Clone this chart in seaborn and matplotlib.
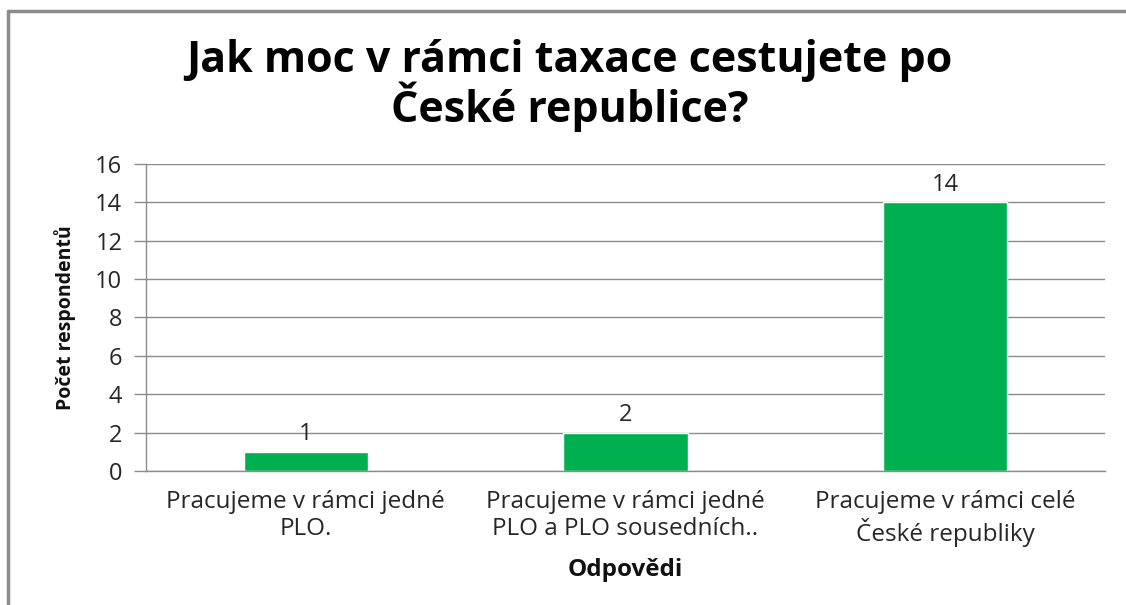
import matplotlib
matplotlib.use("Agg")
import matplotlib.pyplot as plt
import seaborn as sns
import pandas as pd
from matplotlib.lines import Line2D

# data
answers = [
    "Pracujeme v rámci jedné\nPLO.",
    "Pracujeme v rámci jedné\nPLO a PLO sousedních..",
    "Pracujeme v rámci celé\nČeské republiky",
]
counts = [1, 2, 14]

df = pd.DataFrame({"Odpovědi": answers, "Počet respondentů": counts})

sns.set_style("white")
plt.rcParams["font.family"] = ["Open Sans", "DejaVu Sans"]

fig = plt.figure(figsize=(11.26, 6.05), dpi=100)
ax = fig.add_axes([0.1297, 0.2215, 0.8516, 0.5075])

sns.barplot(data=df, x="Odpovědi", y="Počet respondentů", color="#00B050",
            width=0.39, saturation=1, ax=ax)

ax.set_ylim(0, 16)
ax.set_yticks(range(0, 17, 2))
ax.yaxis.grid(True, color="#8c8c8c", linewidth=1)
ax.set_axisbelow(True)

for side in ["top", "right"]:
    ax.spines[side].set_visible(False)
for side in ["left", "bottom"]:
    ax.spines[side].set_color("#8c8c8c")
    ax.spines[side].set_linewidth(1)

ax.tick_params(axis="y", which="major", direction="out", length=9, width=1,
               color="#8c8c8c", labelsize=17, pad=8, left=True)
ax.tick_params(axis="x", length=0, labelsize=17.5, pad=14)
for lab in ax.get_xticklabels() + ax.get_yticklabels():
    lab.set_color("#262626")
for lab in ax.get_xticklabels():
    lab.set_linespacing(1.15)

for c in ax.containers:
    ax.bar_label(c, labels=[str(v) for v in counts], fontsize=17, padding=4,
                 color="#262626")

ax.set_xlabel("Odpovědi", fontsize=17.5, fontweight="bold", labelpad=8,
              color="#111111")
ax.set_ylabel("Počet respondentů", fontsize=14, fontweight="bold", labelpad=14,
              color="#111111")

fig.suptitle("Jak moc v rámci taxace cestujete po\nČeské republice?",
             x=0.506, y=0.935, fontsize=31, fontweight="bold",
             linespacing=0.97, color="#000000")

# outer chart frame (left and top edges visible in the picture)
fig.add_artist(Line2D([0.0075, 0.0075], [0.0, 0.982], transform=fig.transFigure,
                      color="#8c8c8c", linewidth=2.5))
fig.add_artist(Line2D([0.0075, 1.0], [0.982, 0.982], transform=fig.transFigure,
                      color="#8c8c8c", linewidth=2.5))

fig.savefig("out.png", dpi=100)
